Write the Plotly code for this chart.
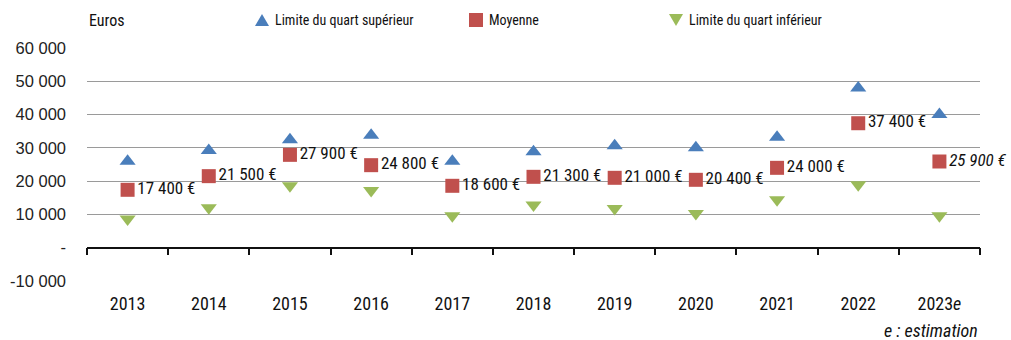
import plotly.graph_objects as go

years = ["2013", "2014", "2015", "2016", "2017", "2018", "2019", "2020", "2021", "2022", "2023<i>e</i>"]
quart_sup = [26000, 29200, 32400, 33800, 26000, 28800, 30600, 30000, 33200, 48000, 40000]
moyenne = [17400, 21500, 27900, 24800, 18600, 21300, 21000, 20400, 24000, 37400, 25900]
quart_inf = [8600, 12000, 18600, 17200, 9600, 12800, 11800, 10300, 14400, 18900, 9600]
y_ticks = [-10000, 0, 10000, 20000, 30000, 40000, 50000, 60000]
y_tick_labels = ["-10 000", "-", "10 000", "20 000", "30 000", "40 000", "50 000", "60 000"]
series_names = ["Limite du quart supérieur", "Moyenne", "Limite du quart inférieur"]

BLUE = "#4A7EBB"
RED = "#C0504D"
GREEN = "#9BBB59"
NARROW = "Liberation Sans Narrow, Roboto Condensed, Arial Narrow, sans-serif"

W, H = 1011, 340
ML, MR, MT, MB = 87, 31, 48, 59
PW, PH = W - ML - MR, H - MT - MB


def euro(v):
    s = f"{v:,}".replace(",", " ")
    return f"{s} €"


def px_x(x):
    return (x - ML) / PW


def px_y(y):
    return (H - MB - y) / PH


mean_labels = [euro(v) for v in moyenne]
mean_labels[-1] = f"<i>{mean_labels[-1]}</i>"

fig = go.Figure()
fig.add_trace(go.Scatter(
    x=years, y=quart_sup, mode="markers", name=series_names[0], showlegend=False,
    marker=dict(symbol="triangle-up", size=14, color=BLUE),
))
fig.add_trace(go.Scatter(
    x=years, y=moyenne, mode="markers+text", name=series_names[1], showlegend=False,
    text=mean_labels, textposition="middle right", cliponaxis=False,
    textfont=dict(family=NARROW, size=17, color="#111"),
    marker=dict(symbol="square", size=14, color=RED),
))
fig.add_trace(go.Scatter(
    x=years, y=quart_inf, mode="markers", name=series_names[2], showlegend=False,
    marker=dict(symbol="triangle-down", size=14, color=GREEN),
))
# invisible trace carrying the zero-level axis with boundary ticks
fig.add_trace(go.Scatter(
    x=years, y=[None] * len(years), xaxis="x2", mode="markers",
    showlegend=False, hoverinfo="skip",
))

# legend row drawn as pixel-sized symbols plus text
legend_y = px_y(20)
legend_items = [
    (262, "M -7,-6 L 7,-6 L 0,6 Z", BLUE),
    (476, "M -7,-7 L 7,-7 L 7,7 L -7,7 Z", RED),
    (676, "M -7,6 L 7,6 L 0,-6 Z", GREEN),
]
shapes = []
annotations = []
for (cx, path, color), name in zip(legend_items, series_names):
    shapes.append(dict(
        type="path", xref="paper", yref="paper", xsizemode="pixel", ysizemode="pixel",
        xanchor=px_x(cx), yanchor=legend_y, path=path,
        fillcolor=color, line=dict(width=0),
    ))
    annotations.append(dict(
        text=name, xref="paper", yref="paper", x=px_x(cx + 11), y=legend_y,
        xanchor="left", yanchor="middle", showarrow=False,
        font=dict(family=NARROW, size=14, color="#111"),
    ))

annotations += [
    dict(text="Euros", xref="paper", yref="paper", x=0.0, y=legend_y,
         xanchor="left", yanchor="middle", showarrow=False,
         font=dict(family=NARROW, size=16, color="#111")),
    dict(text="<i>e : estimation</i>", xref="paper", yref="paper", x=1.0, y=px_y(330),
         xanchor="right", yanchor="middle", showarrow=False,
         font=dict(family=NARROW, size=18, color="#111")),
]

fig.update_layout(
    width=W, height=H,
    margin=dict(l=ML, r=MR, t=MT, b=MB, autoexpand=False),
    paper_bgcolor="white", plot_bgcolor="white",
    font=dict(family=NARROW, size=15, color="#111"),
    showlegend=False,
    xaxis=dict(
        type="category", showgrid=False, showline=False, zeroline=False,
        ticks="outside", ticklen=6, tickcolor="rgba(0,0,0,0)",
        tickfont=dict(family=NARROW, size=18, color="#111"),
        range=[-0.5, 10.5], automargin=False,
    ),
    xaxis2=dict(
        type="category", overlaying="x", anchor="free", position=1 / 7,
        range=[-0.5, 10.5], showticklabels=False, showgrid=False,
        showline=True, linecolor="#111", linewidth=1.5,
        ticks="outside", tickson="boundaries", ticklen=7, tickcolor="#111", tickwidth=1.5,
    ),
    yaxis=dict(
        range=[-10000, 60000], tickvals=y_ticks, ticktext=y_tick_labels,
        showgrid=True, gridcolor="#9a9a9a", gridwidth=1.2, zeroline=False,
        showline=False, ticks="", ticklabelstandoff=20, automargin=False,
        tickfont=dict(family="Liberation Sans, Arial, sans-serif", size=16.5, color="#222"),
    ),
    shapes=shapes,
    annotations=annotations,
)

fig.write_html("out.html")
